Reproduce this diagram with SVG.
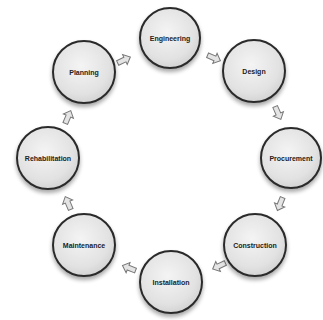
<svg xmlns="http://www.w3.org/2000/svg" width="323" height="320" viewBox="0 0 323 320">
<style>
.node circle{fill:url(#g);stroke:#2a2a2a;stroke-width:2;filter:url(#sh)}
.node text{font-family:"Liberation Sans",Arial,sans-serif;font-size:7px;font-weight:bold;fill:#222;text-anchor:middle;dominant-baseline:central}
.arr use{fill:#e4e4e4;stroke:#777;stroke-width:1}
</style>
<defs>
<radialGradient id="g" cx="0.45" cy="0.4" r="0.65">
<stop offset="0" stop-color="#f4f4f4"/>
<stop offset="0.7" stop-color="#e2e2e2"/>
<stop offset="1" stop-color="#cfcfcf"/>
</radialGradient>
<filter id="sh" x="-30%" y="-30%" width="160%" height="170%">
<feGaussianBlur in="SourceAlpha" stdDeviation="2"/>
<feOffset dy="3"/>
<feComponentTransfer><feFuncA type="linear" slope="0.35"/></feComponentTransfer>
<feMerge><feMergeNode/><feMergeNode in="SourceGraphic"/></feMerge>
</filter>
<path id="a" d="M-7,-2.5 H1 V-5.5 L7,0 L1,5.5 V2.5 H-7 Z"/>
</defs>
<rect width="323" height="320" fill="#fff"/>
<g id="connectors" class="arr">
<use href="#a" transform="translate(124,60) rotate(-25)"/>
<use href="#a" transform="translate(214,58) rotate(23)"/>
<use href="#a" transform="translate(278,113) rotate(66)"/>
<use href="#a" transform="translate(280,204) rotate(112)"/>
<use href="#a" transform="translate(219,266) rotate(155)"/>
<use href="#a" transform="translate(129,268) rotate(201)"/>
<use href="#a" transform="translate(68,203) rotate(247)"/>
<use href="#a" transform="translate(68,117) rotate(-67)"/>
</g>
<g id="engineering" class="node"><circle cx="170" cy="38" r="30"/><text x="170" y="38">Engineering</text></g>
<g id="design" class="node"><circle cx="254" cy="71" r="31"/><text x="254" y="71">Design</text></g>
<g id="procurement" class="node"><circle cx="291" cy="158" r="30"/><text x="291" y="158">Procurement</text></g>
<g id="construction" class="node"><circle cx="255" cy="245" r="31"/><text x="255" y="245">Construction</text></g>
<g id="installation" class="node"><circle cx="171" cy="282" r="31"/><text x="171" y="282">Installation</text></g>
<g id="maintenance" class="node"><circle cx="84" cy="245" r="31"/><text x="84" y="245">Maintenance</text></g>
<g id="rehabilitation" class="node"><circle cx="48" cy="158" r="31"/><text x="48" y="158">Rehabilitation</text></g>
<g id="planning" class="node"><circle cx="84" cy="72" r="31"/><text x="84" y="72">Planning</text></g>
</svg>
